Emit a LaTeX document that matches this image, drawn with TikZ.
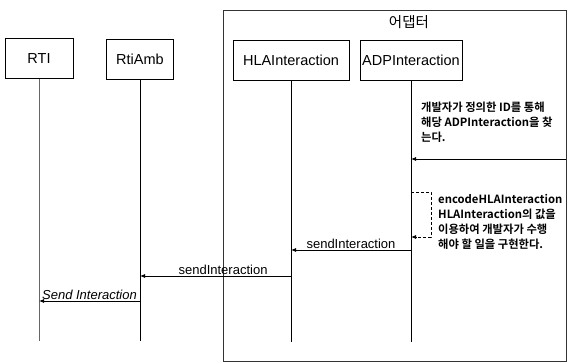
\documentclass[tikz,border=0pt]{standalone}
\usepackage{fontspec}
\setmainfont{Liberation Sans}
\newfontfamily\krfont{Noto Sans CJK KR}
\newfontfamily\krbold{Noto Sans CJK KR Bold}
\usetikzlibrary{arrows.meta}
\begin{document}
\begin{tikzpicture}[x=1pt,y=-1pt,
  objbox/.style={draw=black,line width=0.8pt,minimum height=40pt,inner sep=0pt,font=\fontsize{14.5}{16}\selectfont},
  lifeline/.style={line width=0.8pt},
  msg/.style={line width=0.8pt,-{Latex[length=5pt,width=4pt]}},
  msglabel/.style={font=\fontsize{13}{15}\selectfont,inner sep=1pt},
  note/.style={font=\krbold\fontsize{11.3}{15}\selectfont,align=left,inner sep=0pt,anchor=north west}]
\useasboundingbox (0,0) rectangle (568,363);
\fill[white] (0,0) rectangle (568,363);
% adapter frame
\draw[line width=0.7pt,draw=black!80] (223,10) rectangle (566,361);
\node[font=\krfont\fontsize{14.5}{16}\selectfont] (title) at (409,22) {어댑터};
% objects
\node[objbox,minimum width=68pt] (rti) at (39,58.5) {RTI};
\node[objbox,minimum width=67pt] (amb) at (140,59) {RtiAmb};
\node[objbox,minimum width=116pt] (hla) at (291,60.5) {HLAInteraction};
\node[objbox,minimum width=102pt] (adp) at (411,60.5) {ADPInteraction};
% lifeline ends
\coordinate (rtiE) at (rti.south |- 0,341);
\coordinate (ambE) at (amb.south |- 0,341);
\coordinate (hlaE) at (hla.south |- 0,342);
\coordinate (adpE) at (adp.south |- 0,342);
\draw[lifeline,draw=black!60] (rti.south) -- (rtiE);
\draw[lifeline] (amb.south) -- (ambE);
\draw[lifeline] (hla.south) -- (hlaE);
\draw[lifeline] (adp.south) -- (adpE);
% notes
\node[note] (n1) at (421,102) {개발자가 정의한 ID를 통해\\해당 ADPInteraction을 찾\\는다.};
\node[note] (n2) at (438,194) {encodeHLAInteraction\\HLAInteraction의 값을\\이용하여 개발자가 수행\\해야 할 일을 구현한다.};
% messages
\coordinate (ext) at (566,159);
\draw[msg] (ext) -- (adp.south |- ext);
\coordinate (s1) at (adp.south |- 0,192);
\coordinate (s2) at (adp.south |- 0,237);
\draw[msg,densely dashed] (s1) -- ++(20,0) |- (s2);
\coordinate (m1) at (adp.south |- 0,250);
\draw[msg] (m1) -- node[msglabel,above] {sendInteraction} (hla.south |- m1);
\coordinate (m2) at (hla.south |- 0,276);
\draw[msg] (m2) -- node[msglabel,above,pos=0.45] {sendInteraction} (amb.south |- m2);
\coordinate (m3) at (amb.south |- 0,301);
\draw[msg] (m3) -- node[msglabel,above,font=\itshape\fontsize{13}{15}\selectfont] {Send Interaction} (rti.south |- m3);
\end{tikzpicture}
\end{document}
